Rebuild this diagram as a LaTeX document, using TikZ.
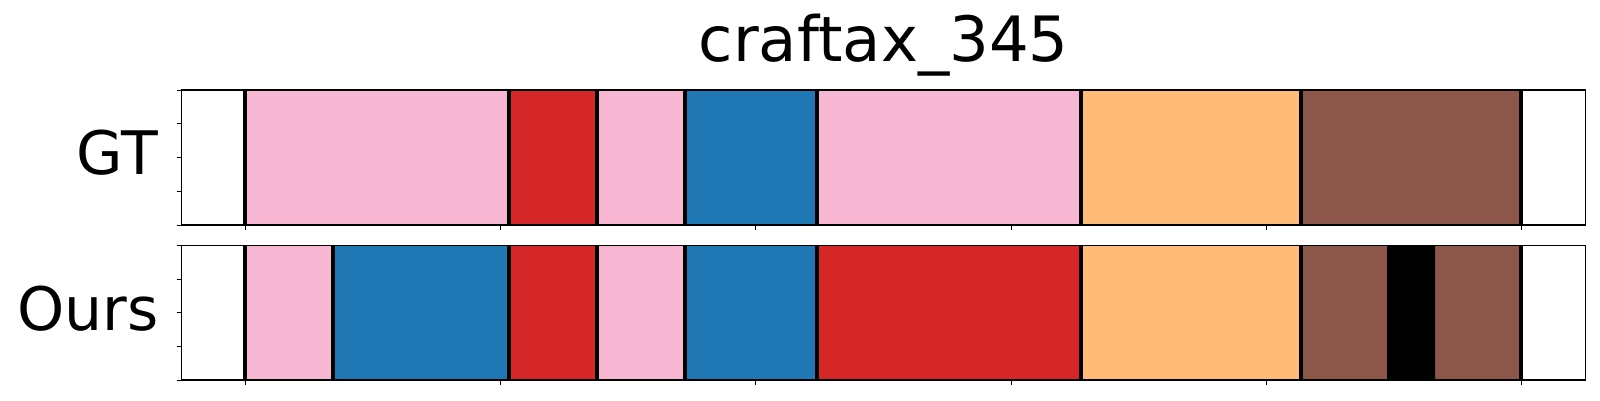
\documentclass[tikz,border=0pt]{standalone}
\usepackage{fontspec}
\setmainfont{DejaVu Sans}
\usepackage{tikz}
\definecolor{segpink}{HTML}{F7B6D2}
\definecolor{segred}{HTML}{D62728}
\definecolor{segblue}{HTML}{1F77B4}
\definecolor{segorange}{HTML}{FFBB78}
\definecolor{segbrown}{HTML}{8C564B}
\definecolor{segblack}{HTML}{000000}

\begin{document}
\begin{tikzpicture}[x=1pt,y=-1pt]
\tikzstyle{every node}+=[inner sep=0pt]
\tikzstyle{sepline}=[black, line width=4pt]
\tikzstyle{frame}=[black, line width=1.2pt]
\tikzstyle{tick}=[black, line width=1pt]
\useasboundingbox (0,0) rectangle (1600,400);
\node (title) at (883.7,61.5) [anchor=base] {\fontsize{62.5}{62.5}\selectfont craftax\_345};
\node (gt) at (158,174.5) [anchor=base east] {\fontsize{60}{60}\selectfont GT};
\node (ours) at (158.5,330.5) [anchor=base east] {\fontsize{60}{60}\selectfont Ours};
% GT row
\foreach \a/\b/\c in {245/509/segpink, 509/597/segred, 597/685/segpink, 685/817/segblue,
    817/1081/segpink, 1081/1301/segorange, 1301/1521/segbrown}
  \fill [\c, draw=\c!85!black, line width=0.6pt] (\a,90) rectangle (\b,225);
\foreach \x in {245,509,597,685,817,1081,1301,1521}
  \draw [sepline] (\x,90) -- (\x,225);
\draw [frame] (181.7,90) rectangle (1585.7,225);
\foreach \y in {90,123.75,157.5,191.25,225}
  \draw [tick] (176.7,\y) -- (181.7,\y);
\foreach \x in {245.7,500.8,755.9,1011,1266.1,1521.2}
  \draw [tick] (\x,225) -- (\x,230);
% Ours row
\foreach \a/\b/\c in {245/333/segpink, 333/509/segblue, 509/597/segred, 597/685/segpink,
    685/817/segblue, 817/1081/segred, 1081/1301/segorange, 1301/1387/segbrown,
    1387/1435/segblack, 1435/1521/segbrown}
  \fill [\c, draw=\c!85!black, line width=0.6pt] (\a,245.7) rectangle (\b,380);
\foreach \x in {245,333,509,597,685,817,1081,1301,1521}
  \draw [sepline] (\x,245.7) -- (\x,380);
\draw [frame] (181.7,245.7) rectangle (1585.7,380);
\foreach \y in {245.7,279.3,312.9,346.4,380}
  \draw [tick] (176.7,\y) -- (181.7,\y);
\foreach \x in {245.7,500.8,755.9,1011,1266.1,1521.2}
  \draw [tick] (\x,380) -- (\x,385);
\end{tikzpicture}
\end{document}
